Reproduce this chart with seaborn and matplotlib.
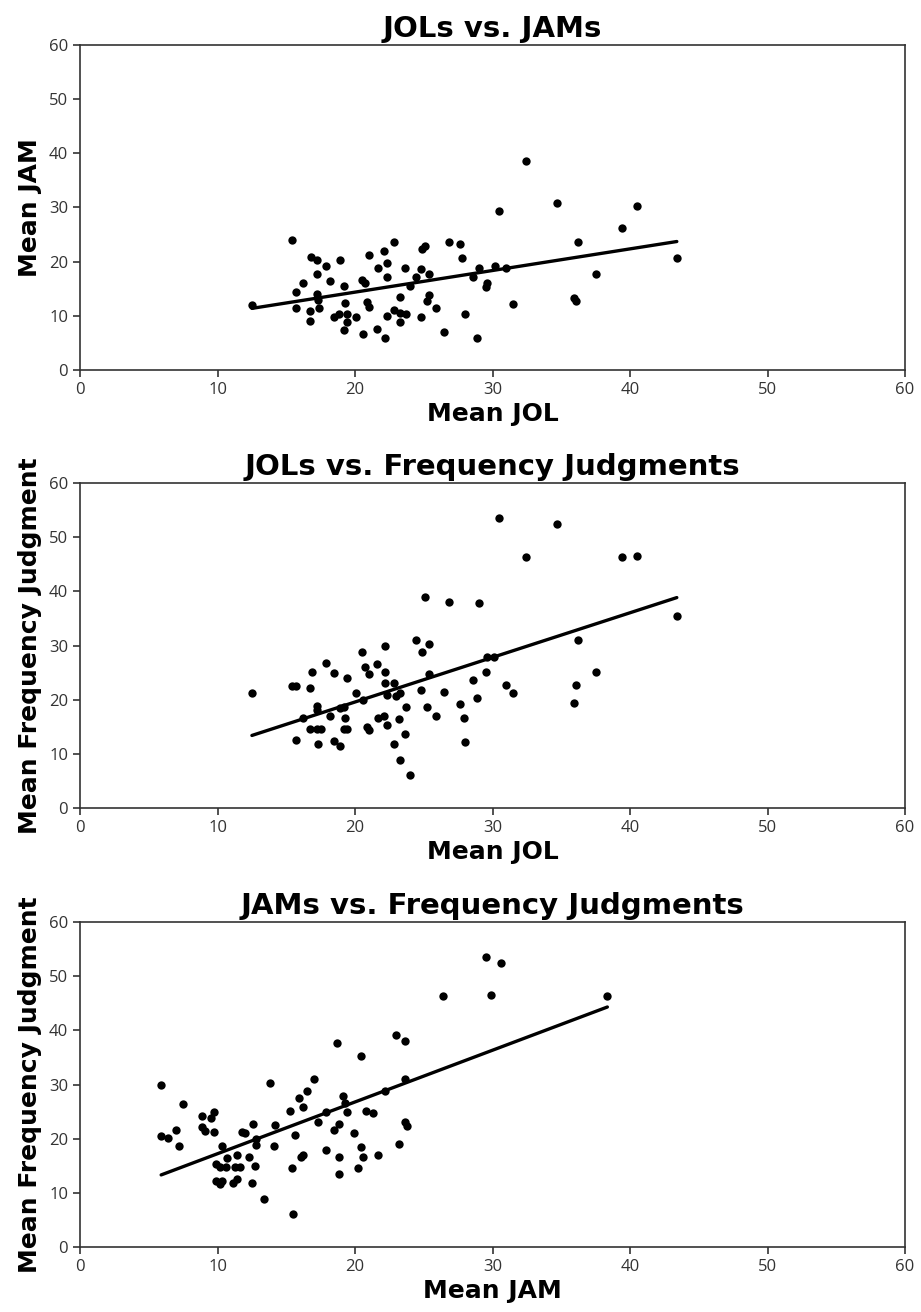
import matplotlib
matplotlib.use('Agg')
import matplotlib.pyplot as plt
import seaborn as sns

# Panel 1: JOLs vs. JAMs
jol_a = [12.5, 15.4, 16.8, 17.2, 17.9, 18.9, 17.2, 16.2, 15.7, 15.7, 16.7, 16.7, 17.2, 17.3,
         17.4, 18.2, 19.2, 19.3, 18.5, 18.8, 19.4, 19.4, 20.1, 19.2, 20.6, 21.0, 20.5, 20.7,
         20.9, 21.0, 21.6, 22.2, 21.7, 22.1, 22.3, 22.3, 22.8, 22.3, 22.8, 23.3, 23.3, 23.7,
         23.3, 23.6, 24.0, 24.4, 24.8, 24.9, 25.1, 25.4, 25.4, 25.2, 24.8, 25.9, 26.5, 26.8,
         27.6, 27.8, 32.4, 34.7, 30.5, 40.5, 39.4, 36.2, 43.4, 29.0, 28.6, 30.2, 31.0, 29.6,
         29.5, 37.5, 31.5, 35.9, 36.1, 28.0, 28.9]
jam_a = [12.0, 24.0, 20.9, 20.3, 19.2, 20.3, 17.8, 16.1, 14.4, 11.4, 10.8, 9.0, 14.0, 13.0,
         11.4, 16.5, 15.5, 12.4, 9.8, 10.3, 10.3, 8.9, 9.7, 7.3, 6.6, 21.2, 16.6, 16.0,
         12.6, 11.7, 7.6, 5.9, 18.9, 22.0, 19.7, 17.2, 23.7, 10.0, 11.1, 10.6, 8.9, 10.3,
         13.5, 18.9, 15.5, 17.2, 18.6, 22.3, 22.9, 17.8, 13.8, 12.8, 9.7, 11.4, 7.0, 23.7,
         23.3, 20.6, 38.6, 30.8, 29.4, 30.2, 26.3, 23.7, 20.6, 18.9, 17.2, 19.2, 18.9, 16.1,
         15.4, 17.8, 12.1, 13.2, 12.7, 10.3, 5.9]

# Panel 2: JOLs vs. Frequency Judgments
jol_b = [12.5, 15.4, 15.7, 16.7, 16.9, 17.9, 18.5, 19.4, 17.2, 17.2, 16.2, 16.7, 17.2, 17.5,
         15.7, 17.3, 18.2, 18.9, 19.2, 19.3, 19.2, 19.4, 18.5, 18.9, 20.1, 20.5, 20.7, 21.0,
         21.6, 22.2, 22.2, 22.2, 22.8, 22.3, 23.0, 23.3, 20.6, 20.9, 21.0, 21.7, 22.1, 22.3,
         23.2, 22.8, 23.6, 23.7, 23.3, 24.0, 24.4, 25.4, 24.9, 25.1, 26.8, 24.8, 25.4, 25.2,
         25.9, 26.5, 27.6, 30.5, 34.7, 32.4, 39.4, 40.5, 29.0, 43.4, 36.2, 29.6, 30.1, 29.5,
         28.6, 37.5, 28.9, 31.0, 31.5, 36.1, 35.9, 27.9, 28.0]
fj_b = [21.2, 22.5, 22.5, 22.1, 25.2, 26.8, 24.9, 24.1, 18.8, 18.1, 16.6, 14.6, 14.6, 14.6,
        12.6, 11.9, 17.0, 18.4, 18.7, 16.6, 14.6, 14.6, 12.4, 11.4, 21.2, 28.9, 26.0, 24.7,
        26.6, 29.9, 25.2, 23.1, 23.1, 20.9, 20.7, 21.3, 19.9, 15.0, 14.5, 16.6, 17.0, 15.3,
        16.4, 11.9, 13.7, 18.7, 8.9, 6.1, 31.0, 30.3, 28.9, 39.0, 38.1, 21.8, 24.7, 18.7,
        17.0, 21.5, 19.2, 53.5, 52.4, 46.3, 46.3, 46.6, 37.8, 35.4, 31.0, 27.9, 27.9, 25.2,
        23.7, 25.2, 20.4, 22.8, 21.2, 22.8, 19.4, 16.6, 12.2]

# Panel 3: JAMs vs. Frequency Judgments
jam_c = [5.9, 5.9, 6.4, 7.0, 7.2, 7.5, 8.9, 9.5, 9.75, 8.9, 9.1, 9.75, 10.3, 9.9, 10.2, 10.6,
         9.9, 10.2, 10.3, 10.7, 11.4, 11.3, 11.6, 11.1, 11.4, 11.75, 12.0, 12.3, 12.6, 12.8,
         12.8, 12.7, 12.5, 13.4, 13.8, 14.2, 14.1, 15.3, 15.6, 15.4, 15.5, 15.95, 16.5, 17.0,
         16.2, 16.2, 16.1, 17.3, 17.9, 17.9, 18.5, 18.7, 18.8, 18.8, 18.85, 29.5, 30.6, 26.4,
         29.9, 38.35, 23.0, 23.6, 20.4, 23.6, 22.2, 19.15, 19.3, 19.4, 20.8, 21.3, 19.9, 23.6,
         23.75, 20.4, 23.2, 20.6, 21.7, 20.2]
fj_c = [30.0, 20.5, 20.1, 21.6, 18.7, 26.5, 24.2, 23.8, 25.0, 22.1, 21.5, 21.2, 18.6, 15.3,
        14.7, 14.7, 12.2, 11.6, 12.2, 16.4, 17.0, 14.7, 14.7, 11.9, 12.6, 21.3, 21.0, 16.7,
        22.7, 18.9, 19.9, 15.0, 11.9, 8.8, 30.3, 22.5, 18.7, 25.2, 20.7, 14.6, 6.1, 27.6,
        28.9, 31.0, 25.9, 17.0, 16.7, 23.1, 25.0, 18.0, 21.7, 37.7, 16.7, 13.5, 22.8, 53.5,
        52.4, 46.3, 46.6, 46.3, 39.1, 38.1, 35.3, 31.0, 28.9, 27.9, 26.6, 25.0, 25.2, 24.8,
        21.1, 23.1, 22.4, 18.4, 19.0, 16.7, 17.0, 14.6]

panels = [
    (jol_a, jam_a, 'JOLs vs. JAMs', 'Mean JOL', 'Mean JAM'),
    (jol_b, fj_b, 'JOLs vs. Frequency Judgments', 'Mean JOL', 'Mean Frequency Judgment'),
    (jam_c, fj_c, 'JAMs vs. Frequency Judgments', 'Mean JAM', 'Mean Frequency Judgment'),
]

sns.set_style('ticks')
plt.rcParams['font.family'] = ['DejaVu Sans']

fig = plt.figure(figsize=(9.21, 13.12), dpi=100)
bottoms = [0.718, 0.3841, 0.0495]

for (x, y, title, xlab, ylab), b in zip(panels, bottoms):
    ax = fig.add_axes([0.0869, b, 0.8958, 0.2477])
    sns.regplot(x=x, y=y, ax=ax, ci=None, color='black', truncate=True,
                scatter_kws={'s': 36, 'alpha': 1, 'linewidths': 0},
                line_kws={'lw': 2.4})
    ax.set_xlim(0, 60)
    ax.set_ylim(0, 60)
    ax.set_xticks(range(0, 61, 10))
    ax.set_yticks(range(0, 61, 10))
    ax.set_title(title, fontsize=21, fontweight='bold', pad=6, color='black')
    ax.set_xlabel(xlab, fontsize=18, fontweight='bold', labelpad=3, color='black')
    ax.set_ylabel(ylab, fontsize=18, fontweight='bold', labelpad=5, color='black')
    ax.tick_params(axis='both', labelsize=12, colors='#333333', length=5, width=1.2,
                   direction='out')
    for sp in ax.spines.values():
        sp.set_visible(True)
        sp.set_color('#333333')
        sp.set_linewidth(1.2)
    for lbl in ax.get_xticklabels() + ax.get_yticklabels():
        lbl.set_family('Open Sans')

fig.savefig('out.png', dpi=100)
